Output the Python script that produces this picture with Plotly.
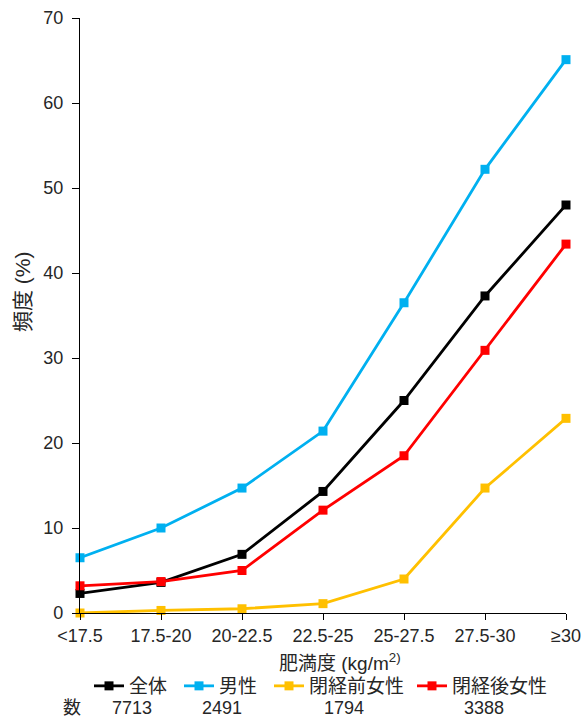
import plotly.graph_objects as go

# BMI categories (kg/m2)
categories = ["<17.5", "17.5-20", "20-22.5", "22.5-25", "25-27.5", "27.5-30", "≥30"]

# Frequency (%) by group
series_names = ["全体", "男性", "閉経前女性", "閉経後女性"]
overall = [2.3, 3.6, 6.9, 14.3, 25.0, 37.3, 48.0]
men = [6.5, 10.0, 14.7, 21.4, 36.5, 52.2, 65.1]
premenopausal = [0.0, 0.3, 0.5, 1.1, 4.0, 14.7, 22.9]
postmenopausal = [3.2, 3.7, 5.0, 12.1, 18.5, 30.9, 43.4]

# Number of subjects per group
counts = [7713, 2491, 1794, 3388]

colors = ["#000000", "#00B0F0", "#FFC000", "#FF0000"]
values = [overall, men, premenopausal, postmenopausal]

FONT = "Liberation Sans, Arial, Noto Sans CJK JP, sans-serif"
TXT = "#262626"

L, R, T, B = 80, 18, 18, 106
W, H = 584, 719
pw, ph = W - L - R, H - T - B


def px_to_paper(x, y):
    return (x - L) / pw, (H - B - y) / ph


# one legend per series so each entry sits above its count
legend_ids = ["legend", "legend2", "legend3", "legend4"]
legend_left_px = [89, 179, 269, 412]

fig = go.Figure()
for name, vals, col, lid in zip(series_names, values, colors, legend_ids):
    fig.add_trace(go.Scatter(
        x=categories, y=vals, name=name, mode="lines+markers",
        line=dict(color=col, width=2.8),
        marker=dict(symbol="square", size=9, color=col),
        cliponaxis=False, legend=lid,
    ))

legends = {}
for lid, lx_px in zip(legend_ids, legend_left_px):
    lx, ly = px_to_paper(lx_px, 686)
    legends[lid] = dict(orientation="h", x=lx, xanchor="left", y=ly,
                        yanchor="middle", font=dict(size=19, color=TXT, family=FONT),
                        itemwidth=30, bgcolor="rgba(0,0,0,0)", borderwidth=0)

# Count row under the legend (pixel centres)
count_row = [("数", 72)] + list(zip([str(c) for c in counts], [132, 222, 344, 484]))
annotations = []
for txt, cx in count_row:
    ax, ay = px_to_paper(cx, 708)
    annotations.append(dict(text=txt, x=ax, y=ay, xref="paper", yref="paper",
                            xanchor="center", yanchor="middle", showarrow=False,
                            font=dict(size=18, color=TXT, family=FONT)))

# Y-axis title
tx, ty = px_to_paper(22, 292)
annotations.append(dict(text="頻度\u00a0(%)", x=tx, y=ty, xref="paper", yref="paper",
                        xanchor="center", yanchor="middle", showarrow=False,
                        textangle=-90, font=dict(size=21, color=TXT, family=FONT)))

# X-axis title
tx, ty = px_to_paper(340, 662)
annotations.append(dict(text="肥満度\u00a0(kg/m<sup>2)</sup>", x=tx, y=ty, xref="paper",
                        yref="paper", xanchor="center", yanchor="middle",
                        showarrow=False, font=dict(size=19, color=TXT, family=FONT)))

fig.update_layout(
    width=W, height=H,
    margin=dict(l=L, r=R, t=T, b=B),
    paper_bgcolor="white", plot_bgcolor="white",
    font=dict(family=FONT, size=18, color=TXT),
    showlegend=True,
    annotations=annotations,
    xaxis=dict(
        type="category", range=[0, 6], showgrid=False, zeroline=False,
        showline=True, linecolor="#000000", linewidth=1.2,
        ticks="outside", ticklen=6, tickcolor="#000000",
        tickfont=dict(size=18, color=TXT), automargin=False,
    ),
    yaxis=dict(
        range=[0, 70], dtick=10, showgrid=False, zeroline=False,
        showline=True, linecolor="#000000", linewidth=1.2,
        ticks="outside", ticklen=7, tickcolor="#000000",
        tickfont=dict(size=18, color=TXT), automargin=False,
        ticklabelstandoff=5,
    ),
    **legends,
)

fig.write_html("out.html")
